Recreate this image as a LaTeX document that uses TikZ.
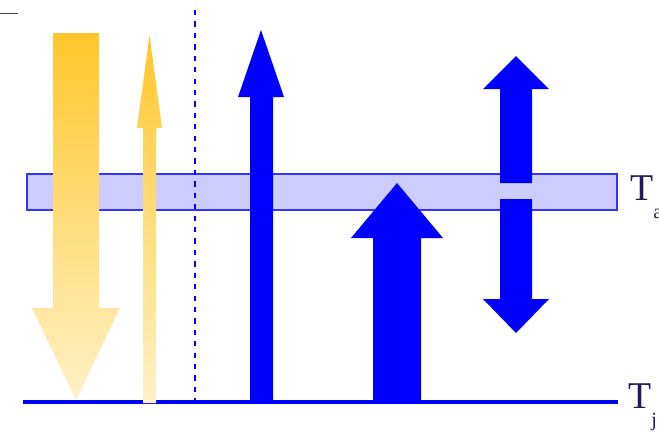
\documentclass[tikz,border=0pt]{standalone}
\usepackage{fontspec}
\setmainfont{Liberation Serif}
\usepackage{xcolor}
\definecolor{flux-blue}{HTML}{0000FF}
\definecolor{layer-blue}{HTML}{CCCCFF}
\definecolor{layer-edge}{HTML}{3333FF}
\definecolor{sun-gold}{HTML}{FFC72C}
\definecolor{sun-pale}{HTML}{FFF2C8}
\definecolor{label-navy}{HTML}{1C1C5A}

\begin{document}
\begin{tikzpicture}[x=0.02cm, y=-0.02cm,
      every node/.style={font=\fontsize{21.5}{24}\selectfont, text=label-navy, inner sep=0pt},
      goldflux/.style={top color=sun-gold, bottom color=sun-pale, draw=none},
      blueflux/.style={fill=flux-blue, draw=none}]
    \useasboundingbox (0,0) rectangle (659,434);
    % small mark top left
    \draw[black!75, line width=0.7pt] (0,13.5) -- (18,13.5);
    % ground line
    \draw[flux-blue, line width=2.3pt] (23,402) -- (618,402);
    \node[anchor=base west] (Tj) at (628,408)
      {T\raisebox{-0.5em}{\fontsize{11.4}{12}\selectfont j}};
    % atmosphere layer
    \draw[layer-edge, fill=layer-blue, line width=0.85pt] (27,174) rectangle (617,210);
    \node[anchor=base west] (Ta) at (630,200)
      {T\raisebox{-0.5em}{\fontsize{11.4}{12}\selectfont a}};
    % incoming and reflected sunlight
    \shade[goldflux] (53,33) -- (99,33) -- (99,308) -- (120,308) -- (76,400)
      -- (32,308) -- (53,308) -- cycle;
    \shade[goldflux] (143,403) -- (156,403) -- (156,128) -- (162,128) -- (149.5,35)
      -- (137,128) -- (143,128) -- cycle;
    \draw[flux-blue, line width=1.1pt, dash pattern=on 3pt off 3.5pt] (195,10) -- (195,408);
    % longwave fluxes
    \fill[blueflux] (250,400) -- (273,400) -- (273,97) -- (284,97) -- (261,30)
      -- (238,97) -- (250,97) -- cycle;
    \fill[blueflux] (373,400) -- (421,400) -- (421,238) -- (443,238) -- (397,183)
      -- (351,238) -- (373,238) -- cycle;
    \fill[blueflux] (500,183) -- (532,183) -- (532,89) -- (549,89) -- (516,56)
      -- (483,89) -- (500,89) -- cycle;
    \fill[blueflux] (500,199) -- (532,199) -- (532,299) -- (549,299) -- (516,333)
      -- (483,299) -- (500,299) -- cycle;
  \end{tikzpicture}
\end{document}
